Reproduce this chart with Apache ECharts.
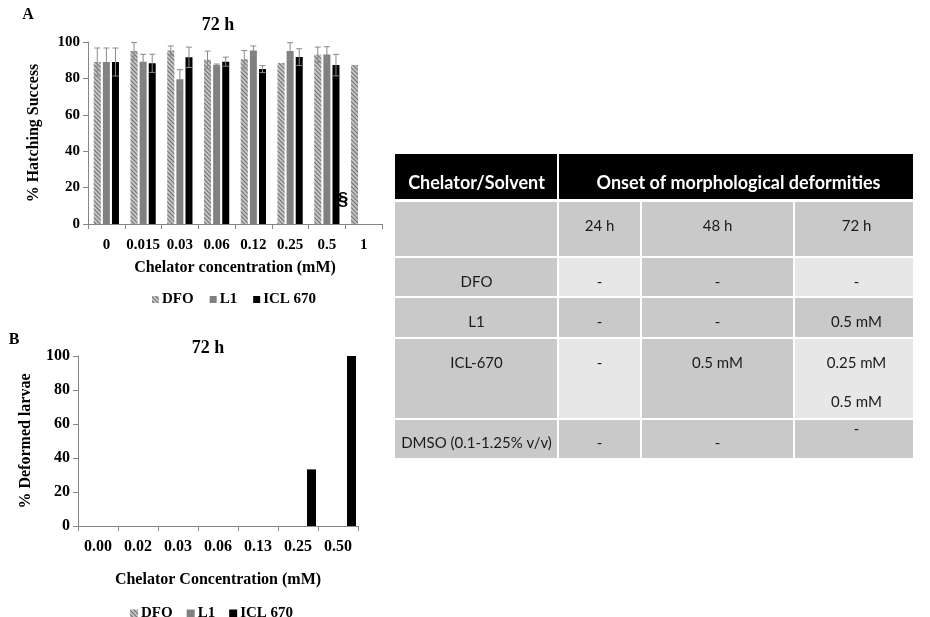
<!DOCTYPE html>
<html>
<head>
<meta charset="utf-8">
<script src="https://cdn.jsdelivr.net/npm/echarts@6/dist/echarts.min.js"></script>
<style>
  html, body { margin: 0; padding: 0; background: #fff; }
  #chart { width: 930px; height: 617px; }
</style>
</head>
<body>
<div id="chart"></div>
<script>
// ---------- data: panel A (72 h hatching success) ----------
const catsA = ['0', '0.015', '0.03', '0.06', '0.12', '0.25', '0.5', '1'];
const dfoA = [89, 95, 95.3, 90.3, 90.5, 88.4, 93, 87.3];
const l1A = [89, 89.2, 79.5, 87.3, 95.3, 95, 93.2, null];
const iclA = [89, 88.3, 91.6, 89.2, 85.1, 91.7, 87.3, null];
const dfoErrA = [7.7, 4.7, 2.5, 4.7, 4.8, 0, 4.2, 0];
const l1ErrA = [7.7, 4, 5.3, 0.6, 2.5, 4.6, 4.2, null];
const iclErrA = [7.7, 5, 5.6, 2.5, 1.9, 4.6, 5.9, null];
const ticksA = [0, 20, 40, 60, 80, 100];

// ---------- data: panel B (72 h deformed larvae) ----------
const catsB = ['0.00', '0.02', '0.03', '0.06', '0.13', '0.25', '0.50'];
const dfoB = [0, 0, 0, 0, 0, 0, 0];
const l1B = [0, 0, 0, 0, 0, 0, 0];
const iclB = [0, 0, 0, 0, 0, 33.3, 100];

const seriesNames = ['DFO', 'L1', 'ICL 670'];

// ---------- data: table ----------
const tableHead = ['Chelator/Solvent', 'Onset of morphological deformities'];
const timeCols = ['24 h', '48 h', '72 h'];
const tableRows = [
  ['DFO', '-', '-', '-'],
  ['L1', '-', '-', '0.5 mM'],
  ['ICL-670', '-', '0.5 mM', '0.25 mM', '0.5 mM'],
  ['DMSO (0.1-1.25% v/v)', '-', '-', '-']
];

// ---------- styles ----------
const SERIF = 'Liberation Serif';
const axisColor = '#868686';
const colDFO = '#c4c4c4';
const colL1 = '#808080';
const colICL = '#000000';
const hatch = {
  symbol: 'rect', symbolSize: 1,
  dashArrayX: [1, 0], dashArrayY: [1, 1.3],
  rotation: Math.PI / 4, color: '#6e6e6e'
};

function makeAxes(cats, gridIndex, fs, margin) {
  return {
    x: {
      type: 'category', gridIndex: gridIndex, data: cats,
      axisLine: { lineStyle: { color: axisColor } },
      axisTick: { show: true, length: 5, lineStyle: { color: axisColor } },
      axisLabel: { interval: 0, margin: margin, color: '#000', fontFamily: SERIF, fontWeight: 'bold', fontSize: fs }
    },
    y: {
      type: 'value', gridIndex: gridIndex, min: 0, max: 100, interval: 20,
      splitLine: { show: false },
      axisLine: { show: true, lineStyle: { color: axisColor } },
      axisTick: { show: true, length: 5, lineStyle: { color: axisColor } },
      axisLabel: { margin: 8, color: '#000', fontFamily: SERIF, fontWeight: 'bold', fontSize: fs }
    }
  };
}

const axA = makeAxes(catsA, 0, 15, 14);
const axB = makeAxes(catsB, 1, 16, 13);
const nameStyle = { color: '#000', fontFamily: SERIF, fontWeight: 'bold', fontSize: 16 };
Object.assign(axA.x, { name: 'Chelator concentration (mM)', nameLocation: 'middle', nameGap: 36, nameTextStyle: nameStyle });
Object.assign(axA.y, { name: '% Hatching Success', nameLocation: 'middle', nameGap: 46, nameTextStyle: nameStyle });
Object.assign(axB.x, { name: 'Chelator Concentration (mM)', nameLocation: 'middle', nameGap: 46, nameTextStyle: nameStyle });
Object.assign(axB.y, { name: '% Deformed larvae', nameLocation: 'middle', nameGap: 44, nameTextStyle: nameStyle });

const BW_A = 7, GAP_A = 0.3;
const BW_B = 9, GAP_B = 0.5;

function barSeries(name, data, gi, color, bw, gap, decal) {
  const s = {
    name: name, type: 'bar', xAxisIndex: gi, yAxisIndex: gi, data: data,
    barWidth: bw, barGap: (gap * 100) + '%',
    itemStyle: { color: color },
    emphasis: { disabled: true }
  };
  if (decal) s.itemStyle.decal = decal;
  return s;
}

function errSeries(means, errs, k) {
  const data = [];
  means.forEach(function (m, i) {
    if (m != null && errs[i]) data.push([i, m, errs[i]]);
  });
  return {
    type: 'custom', name: 'err' + k, xAxisIndex: 0, yAxisIndex: 0, z: 5,
    data: data,
    renderItem: function (params, api) {
      const i = api.value(0), m = api.value(1), e = api.value(2);
      const off = (k - 1) * BW_A * (1 + GAP_A);
      const top = api.coord([i, m + e]);
      const bot = api.coord([i, m - e]);
      const x = top[0] + off;
      const st = { stroke: '#8a8a8a', lineWidth: 1 };
      return {
        type: 'group',
        children: [
          { type: 'line', shape: { x1: x, y1: top[1], x2: x, y2: bot[1] }, style: st },
          { type: 'line', shape: { x1: x - 3, y1: top[1], x2: x + 3, y2: top[1] }, style: st },
          { type: 'line', shape: { x1: x - 3, y1: bot[1], x2: x + 3, y2: bot[1] }, style: st }
        ]
      };
    }
  };
}

// ---------- table graphics ----------
const tLeft = 395, tRight = 913;
const colX = [395, 558, 641, 794, 913];
const headTop = 154, headBot = 199;
const rowY = [[202, 256], [258, 296], [298, 337], [339, 418], [420, 458]];
const dark = '#c9c9c9', light = '#e7e7e7';
const TF = 'Lato';
const tableGraphics = [];
tableGraphics.push({ type: 'rect', shape: { x: tLeft, y: headTop, width: tRight - tLeft, height: headBot - headTop }, style: { fill: '#000' } });
tableGraphics.push({ type: 'rect', shape: { x: colX[1] - 1, y: headTop, width: 2, height: headBot - headTop }, style: { fill: '#fff' } });
tableGraphics.push({ type: 'text', x: (colX[0] + colX[1]) / 2, y: 183,
  style: { text: tableHead[0], fill: '#fff', font: 'bold 18px ' + TF, align: 'center', verticalAlign: 'middle' } });
tableGraphics.push({ type: 'text', x: (colX[1] + colX[4]) / 2 + 3, y: 183,
  style: { text: tableHead[1], fill: '#fff', font: 'bold 18px ' + TF, align: 'center', verticalAlign: 'middle' } });

function cell(r, c, texts, ys) {
  const x0 = colX[c] + (c > 0 ? 1 : 0), x1 = colX[c + 1] - (c < 3 ? 1 : 0);
  const y0 = rowY[r][0], y1 = rowY[r][1];
  const isLight = (r === 1 || r === 3) && (c === 1 || c === 3);
  tableGraphics.push({ type: 'rect', shape: { x: x0, y: y0, width: x1 - x0, height: y1 - y0 }, style: { fill: isLight ? light : dark } });
  const cx = (colX[c] + colX[c + 1]) / 2 + (c === 3 ? 3 : 0);
  texts.forEach(function (t, j) {
    tableGraphics.push({ type: 'text', x: cx, y: ys[j],
      style: { text: t, fill: '#1a1a1a', font: '15px ' + TF, align: 'center', verticalAlign: 'middle' } });
  });
}
// sub-header row
cell(0, 0, [], []);
timeCols.forEach(function (t, j) { cell(0, j + 1, [t], [226]); });
// body rows
const rowTextY = [282, 322, 363, 443];
tableRows.forEach(function (row, ri) {
  const r = ri + 1, y = rowTextY[ri];
  cell(r, 0, [row[0]], [y]);
  cell(r, 1, [row[1]], [y]);
  cell(r, 2, [row[2]], [y]);
  if (row.length > 4) {
    cell(r, 3, [row[3], row[4]], [y, 402]);
  } else if (ri === 3) {
    cell(r, 3, [row[3]], [429]);
  } else {
    cell(r, 3, [row[3]], [y]);
  }
});

const chart = echarts.init(document.getElementById('chart'), null, { renderer: 'canvas' });
chart.setOption({
  animation: false,
  backgroundColor: '#fff',
  grid: [
    { left: 88, top: 42, width: 294, height: 182, containLabel: false },
    { left: 78, top: 356, width: 280, height: 170, containLabel: false }
  ],
  xAxis: [axA.x, axB.x],
  yAxis: [axA.y, axB.y],
  legend: [
    { data: seriesNames, left: 147, top: 287, icon: 'rect', itemWidth: 7, itemHeight: 7, itemGap: 16,
      selectedMode: false,
      textStyle: { color: '#000', fontFamily: SERIF, fontWeight: 'bold', fontSize: 15, padding: [0, 0, 0, -2] } },
    { data: seriesNames, left: 125, top: 601, icon: 'rect', itemWidth: 8, itemHeight: 8, itemGap: 14,
      selectedMode: false,
      textStyle: { color: '#000', fontFamily: SERIF, fontWeight: 'bold', fontSize: 15, padding: [0, 0, 0, -2] } }
  ],
  graphic: [
    { type: 'text', x: 28, y: 15, style: { text: 'A', font: 'bold 16px ' + SERIF, fill: '#000', align: 'center', verticalAlign: 'middle' } },
    { type: 'text', x: 218, y: 25, style: { text: '72 h', font: 'bold 18px ' + SERIF, fill: '#000', align: 'center', verticalAlign: 'middle' } },
    { type: 'text', x: 343, y: 200, style: { text: '§', font: 'bold 19px Liberation Sans', fill: '#000', align: 'center', verticalAlign: 'middle' } },
    { type: 'text', x: 14, y: 340, style: { text: 'B', font: 'bold 16px ' + SERIF, fill: '#000', align: 'center', verticalAlign: 'middle' } },
    { type: 'text', x: 208, y: 348, style: { text: '72 h', font: 'bold 18px ' + SERIF, fill: '#000', align: 'center', verticalAlign: 'middle' } }
  ].concat(tableGraphics),
  series: [
    barSeries('DFO', dfoA, 0, colDFO, BW_A, GAP_A, hatch),
    barSeries('L1', l1A, 0, colL1, BW_A, GAP_A),
    barSeries('ICL 670', iclA, 0, colICL, BW_A, GAP_A),
    errSeries(dfoA, dfoErrA, 0),
    errSeries(l1A, l1ErrA, 1),
    errSeries(iclA, iclErrA, 2),
    barSeries('DFO', dfoB, 1, colDFO, BW_B, GAP_B, hatch),
    barSeries('L1', l1B, 1, colL1, BW_B, GAP_B),
    barSeries('ICL 670', iclB, 1, colICL, BW_B, GAP_B)
  ]
});
</script>
</body>
</html>
